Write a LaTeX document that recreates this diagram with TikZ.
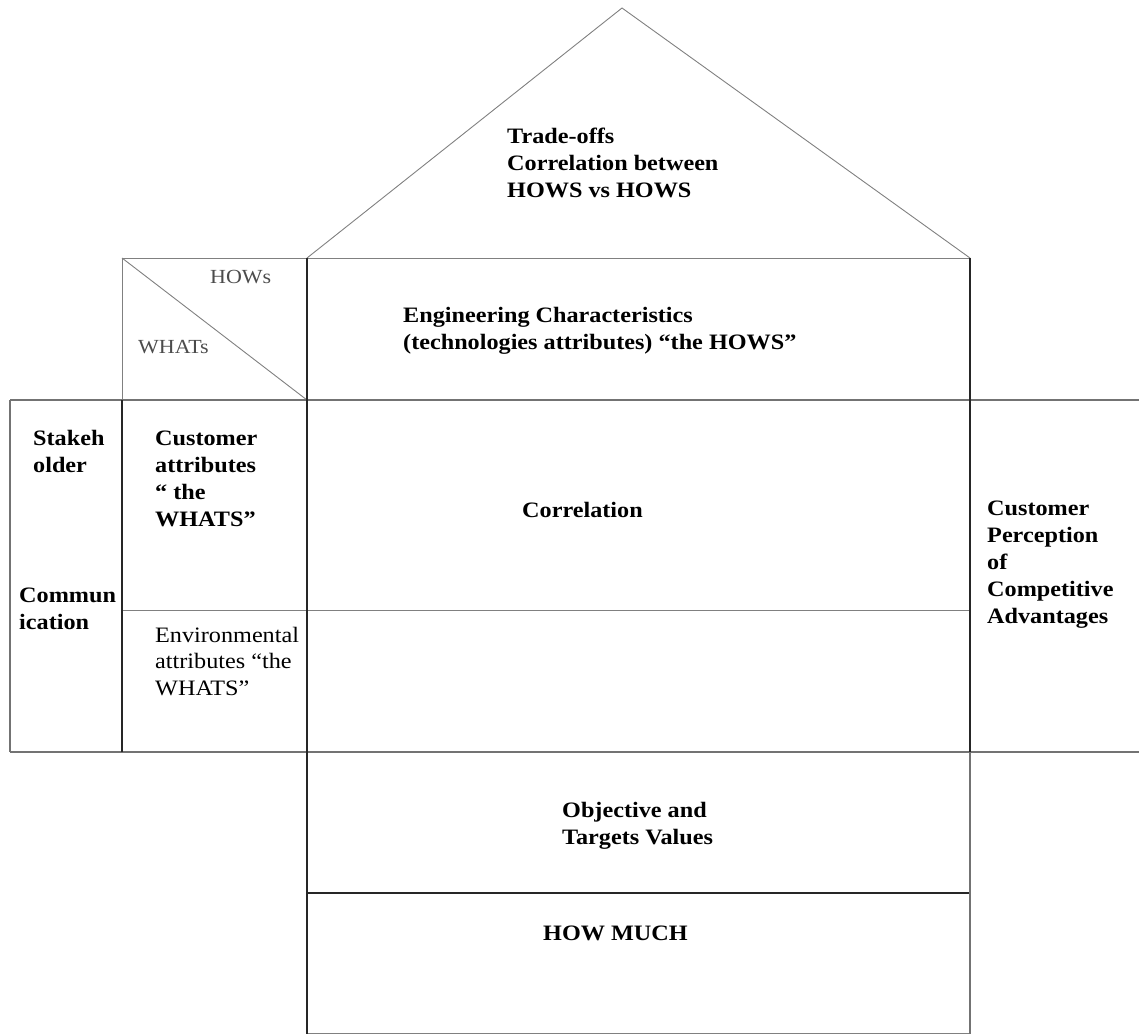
\documentclass[tikz,border=0pt]{standalone}
\usepackage{fontspec}
\setmainfont{Liberation Serif}[FakeStretch=1.1]
\newcommand{\topstrut}{\rule{0pt}{16pt}}
\begin{document}
\begin{tikzpicture}[x=1pt,y=-1pt,
  lbl/.style={anchor=north west,inner sep=0pt,align=left,font=\fontsize{22}{27}\selectfont\bfseries},
  plainlbl/.style={anchor=north west,inner sep=0pt,align=left,font=\fontsize{22}{26.5}\selectfont},
  graylbl/.style={anchor=north west,inner sep=0pt,align=left,text=black!70,font=\fontsize{20}{24}\selectfont},
  thinl/.style={draw=black!50,line width=0.9pt},
  midl/.style={draw=black!55,line width=1.4pt},
  darkl/.style={draw=black!85,line width=1.8pt},
  heavyl/.style={draw=black!55,line width=2.8pt}]
\useasboundingbox (0,0) rectangle (1139,1034);
% roof
\coordinate (rl) at (307,258);
\coordinate (apex) at (622,8);
\coordinate (rr) at (970,258);
\draw[thinl] (rl) -- (apex) -- (rr);
% top line and top-left box
\draw[thinl] (122,258) -- (rr);
\draw[thinl] (122,258) -- (122,400);
\draw[thinl] (122,258) -- (307,400);
% main horizontal lines
\draw[midl] (10,400) -- (1139,400);
\draw[heavyl] (122,400) -- (970,400);
\draw[midl] (10,752) -- (1139,752);
\draw[heavyl] (122,752) -- (970,752);
\draw[thinl] (122,610) -- (970,610);
\draw[darkl] (307,893) -- (970,893);
\draw[thinl] (307,1033) -- (970,1033);
% verticals
\draw[midl] (10,400) -- (10,752);
\draw[darkl] (122,400) -- (122,752);
\draw[darkl] (307,258) -- (307,1034);
\draw[darkl] (970,258) -- (970,752);
\draw[midl] (970,752) -- (970,1034);
% texts (node top = first baseline - 16)
\node[lbl] (trade) at (507,127) {\topstrut Trade-offs\\Correlation between\\HOWS vs HOWS};
\node[graylbl] (hows) at (210,267) {\topstrut HOWs};
\node[graylbl] (whats) at (138,337) {\topstrut WHATs};
\node[lbl] (eng) at (403,306) {\topstrut Engineering Characteristics\\(technologies attributes) “the HOWS”};
\node[lbl] (stake) at (33,429) {\topstrut Stakeh\\older};
\node[lbl] (comm) at (19,586) {\topstrut Commun\\ication};
\node[lbl] (cust) at (155,429) {\topstrut Customer\\attributes\\“ the\\WHATS”};
\node[plainlbl] (env) at (155,626) {\topstrut Environmental\\attributes “the\\WHATS”};
\node[lbl] (corr) at (522,501) {\topstrut Correlation};
\node[lbl] (perc) at (987,499) {\topstrut Customer\\Perception\\of\\Competitive\\Advantages};
\node[lbl] (obj) at (562,801) {\topstrut Objective and\\Targets Values};
\node[lbl] (much) at (543,924) {\topstrut HOW MUCH};
\end{tikzpicture}
\end{document}
